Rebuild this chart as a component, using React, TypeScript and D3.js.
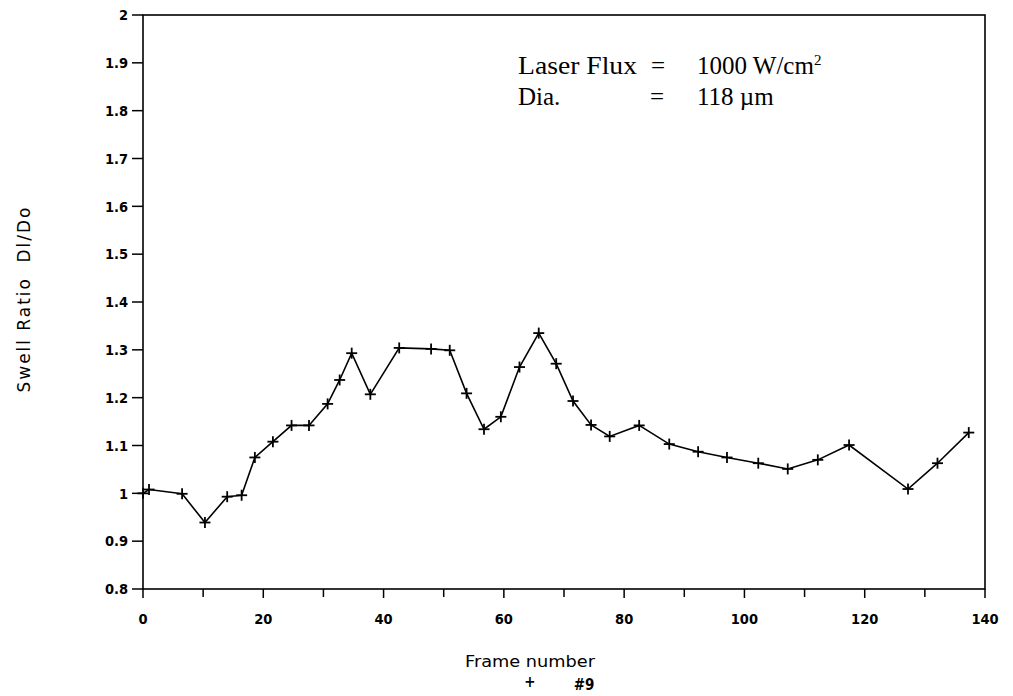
import React from "react";
import * as d3 from "d3";

// frame numbers and swell ratio (Dl/Do)
const frames = [
  0, 1, 6.5, 10.3, 14, 16.4, 18.6, 21.6, 24.7, 27.6, 30.7, 32.7, 34.7, 37.8, 42.6, 47.9, 51, 53.8,
  56.7, 59.5, 62.6, 65.8, 68.7, 71.5, 74.5, 77.6, 82.5, 87.5, 92.3, 97.1, 102.3, 107.2, 112.2,
  117.4, 127.2, 132.1, 137.3,
];
const ratios = [
  1.0, 1.008, 0.999, 0.939, 0.993, 0.996, 1.075, 1.108, 1.142, 1.142, 1.187, 1.237, 1.293, 1.207,
  1.304, 1.302, 1.299, 1.209, 1.134, 1.16, 1.264, 1.335, 1.271, 1.193, 1.143, 1.119, 1.142, 1.103,
  1.087, 1.075, 1.063, 1.051, 1.07, 1.101, 1.009, 1.063, 1.127,
];
const xMajorTicks = [0, 20, 40, 60, 80, 100, 120, 140];
const xMinorTicks = [10, 30, 50, 70, 90, 110, 130];
const yTicks = [0.8, 0.9, 1, 1.1, 1.2, 1.3, 1.4, 1.5, 1.6, 1.7, 1.8, 1.9, 2];

const W = 1013;
const H = 696;
const left = 143;
const right = 985;
const top = 15;
const bottom = 589;

const tickFont = "'DejaVu Sans Condensed', 'DejaVu Sans', sans-serif";
const titleFont = "'DejaVu Sans', sans-serif";
const serif = "'Liberation Serif', 'Times New Roman', serif";

export default function App() {
  const x = d3.scaleLinear().domain([0, 140]).range([left, right]);
  const y = d3.scaleLinear().domain([0.8, 2]).range([bottom, top]);
  const pts = frames.map((f, i) => [f, ratios[i]] as [number, number]);
  const line = d3
    .line<[number, number]>()
    .x((d) => x(d[0]))
    .y((d) => y(d[1]));

  return (
    <svg
      width={W}
      height={H}
      style={{ position: "fixed", left: 0, top: 0, background: "#fff" }}
    >
      <rect x={0} y={0} width={W} height={H} fill="#fff" />
      {/* frame */}
      <rect
        x={left}
        y={top}
        width={right - left}
        height={bottom - top}
        fill="none"
        stroke="#000"
        strokeWidth={1.6}
      />
      {/* y ticks */}
      {yTicks.map((t) => (
        <g key={"y" + t}>
          <line x1={left - 11} x2={left} y1={y(t)} y2={y(t)} stroke="#000" strokeWidth={1.5} />
          <text
            x={left - 15}
            y={y(t)}
            dy="0.36em"
            textAnchor="end"
            fontFamily={tickFont}
            fontWeight="bold"
            fontSize={14.5}
          >
            {String(t)}
          </text>
        </g>
      ))}
      {/* x ticks */}
      {xMajorTicks.map((t) => (
        <g key={"x" + t}>
          <line x1={x(t)} x2={x(t)} y1={bottom} y2={bottom + 9} stroke="#000" strokeWidth={1.5} />
          <text
            x={x(t)}
            y={bottom + 35}
            textAnchor="middle"
            fontFamily={tickFont}
            fontWeight="bold"
            fontSize={14.5}
          >
            {String(t)}
          </text>
        </g>
      ))}
      {xMinorTicks.map((t) => (
        <line
          key={"m" + t}
          x1={x(t)}
          x2={x(t)}
          y1={bottom}
          y2={bottom + 8}
          stroke="#000"
          strokeWidth={1.5}
        />
      ))}
      {/* data */}
      <path d={line(pts) ?? ""} fill="none" stroke="#000" strokeWidth={1.6} />
      {pts.map((d, i) => (
        <g key={"p" + i} transform={`translate(${x(d[0])},${y(d[1])})`} stroke="#000" strokeWidth={1.8}>
          <line x1={-5.5} x2={5.5} y1={0} y2={0} />
          <line x1={0} x2={0} y1={-5.5} y2={5.5} />
        </g>
      ))}
      {/* annotation */}
      <text x={518} y={74} fontFamily={serif} fontSize={25} textLength={119} lengthAdjust="spacingAndGlyphs">
        Laser Flux
      </text>
      <text x={651} y={74} fontFamily={serif} fontSize={25}>
        =
      </text>
      <text x={697} y={74} fontFamily={serif} fontSize={25}>
        1000 W/cm<tspan dy={-9} fontSize={15}>2</tspan>
      </text>
      <text x={518} y={105} fontFamily={serif} fontSize={25}>
        Dia.
      </text>
      <text x={650} y={105} fontFamily={serif} fontSize={25}>
        =
      </text>
      <text x={697} y={105} fontFamily={serif} fontSize={25}>
        118 µm
      </text>
      {/* axis titles */}
      <text
        transform={`translate(30,300) rotate(-90)`}
        textAnchor="middle"
        fontFamily={titleFont}
        fontSize={17}
        textLength={185}
        lengthAdjust="spacing"
      >
        Swell Ratio{"\u00a0\u00a0"}Dl/Do
      </text>
      <text
        x={530}
        y={667}
        textAnchor="middle"
        fontFamily={titleFont}
        fontSize={16}
        textLength={130}
        lengthAdjust="spacingAndGlyphs"
      >
        Frame number
      </text>
      <text x={530} y={687} textAnchor="middle" fontFamily={tickFont} fontWeight="bold" fontSize={15}>
        +
      </text>
      <text x={584} y={690} textAnchor="middle" fontFamily={tickFont} fontWeight="bold" fontSize={15}>
        #9
      </text>
    </svg>
  );
}
